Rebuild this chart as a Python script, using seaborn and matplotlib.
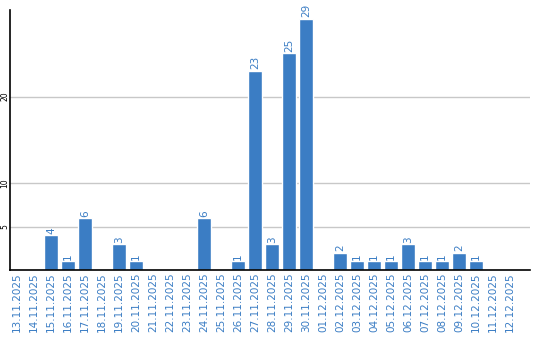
import matplotlib
matplotlib.use("Agg")
import matplotlib.pyplot as plt
import seaborn as sns
import pandas as pd

dates = ["13.11.2025", "14.11.2025", "15.11.2025", "16.11.2025", "17.11.2025",
         "18.11.2025", "19.11.2025", "20.11.2025", "21.11.2025", "22.11.2025",
         "23.11.2025", "24.11.2025", "25.11.2025", "26.11.2025", "27.11.2025",
         "28.11.2025", "29.11.2025", "30.11.2025", "01.12.2025", "02.12.2025",
         "03.12.2025", "04.12.2025", "05.12.2025", "06.12.2025", "07.12.2025",
         "08.12.2025", "09.12.2025", "10.12.2025", "11.12.2025", "12.12.2025"]
values = [0, 0, 4, 1, 6, 0, 3, 1, 0, 0, 0, 6, 0, 1, 23, 3, 25, 29, 0, 2,
          1, 1, 1, 3, 1, 1, 2, 1, 0, 0]
yticks = [5, 10, 20]

BLUE = "#3b7dc4"
sns.set_theme(style="white")
plt.rcParams['font.family'] = ['DejaVu Sans']

df = pd.DataFrame({"date": dates, "value": values})
fig = plt.figure(figsize=(5.4, 3.4), dpi=100)
ax = fig.add_axes([10/540, 70/340, 520/540, 260/340])
sns.barplot(data=df, x="date", y="value", color=BLUE, saturation=1,
            width=0.82, ax=ax, order=dates)

for v in yticks:
    ax.axhline(v, color="#c8c8c8", lw=1, zorder=0)
ax.set_ylim(0, 30)
ax.set_xlim(-0.41, 30.18)
ax.set_yticks(yticks)
ax.set_yticklabels([str(v) for v in yticks], rotation=90, fontsize=5.5,
                   va="center", color="black")
ax.set_xticks(range(len(dates)))
ax.set_xticklabels(dates, rotation=90, fontsize=7.5, color=BLUE)
ax.tick_params(axis="x", length=0, pad=2)
ax.tick_params(axis="y", length=0, pad=0.5)
ax.set_xlabel("")
ax.set_ylabel("")
for s in ["top", "right"]:
    ax.spines[s].set_visible(False)
for s in ["left", "bottom"]:
    ax.spines[s].set_color("black")
    ax.spines[s].set_linewidth(1.2)

cont = ax.containers[0]
ax.bar_label(cont, labels=[str(v) if v > 0 else "" for v in values],
             rotation=90, fontsize=7.5, color=BLUE, padding=1)

fig.savefig("out.png", dpi=100)
